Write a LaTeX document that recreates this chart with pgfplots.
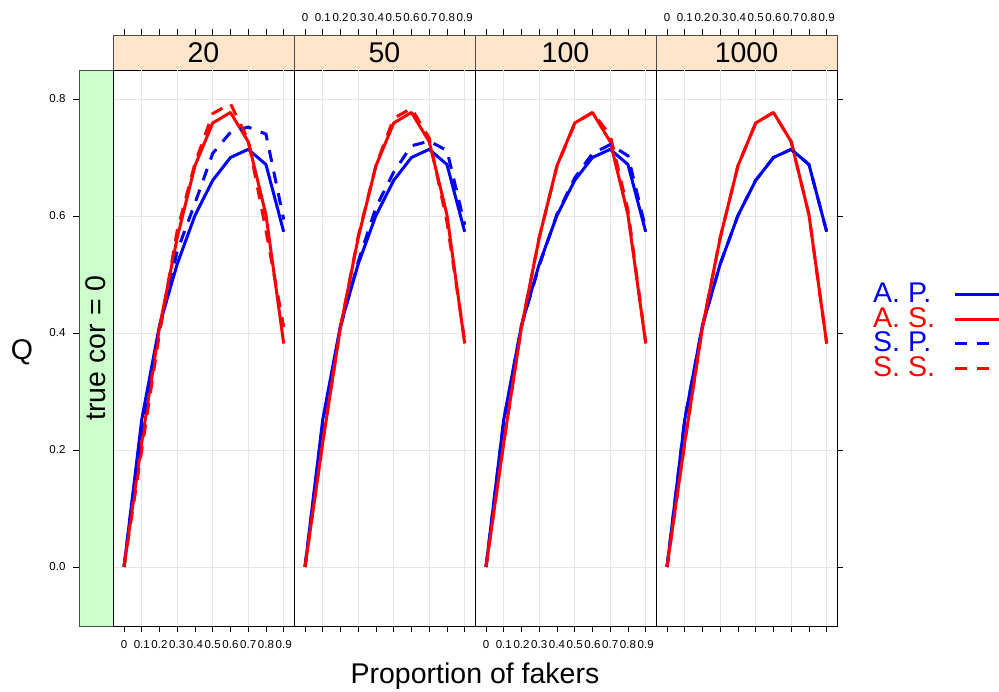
\documentclass[border=0pt]{standalone}
\usepackage{fontspec}
\setmainfont{Liberation Sans}
\usepackage{pgfplots}
\usepackage{pgfplotstable}
\pgfplotsset{compat=1.18}
\definecolor{stripPeach}{HTML}{FFE5CC}
\definecolor{stripGreen}{HTML}{CCFFCC}
\definecolor{gridGray}{HTML}{E6E6E6}
\definecolor{lineBlue}{HTML}{0000FF}
\definecolor{lineRed}{HTML}{FF0000}
\pgfplotstableread{
x   AP    AS    SPa   SSa   SPb   SSb   SPc   SSc
0.0 0.000 0.000 0.000 0.000 0.000 0.000 0.000 0.000
0.1 0.252 0.213 0.240 0.200 0.245 0.215 0.250 0.213
0.2 0.413 0.410 0.405 0.400 0.410 0.410 0.413 0.410
0.3 0.518 0.563 0.540 0.575 0.522 0.565 0.515 0.563
0.4 0.601 0.686 0.622 0.690 0.615 0.687 0.603 0.685
0.5 0.661 0.759 0.707 0.775 0.675 0.767 0.665 0.758
0.6 0.700 0.777 0.743 0.792 0.720 0.784 0.707 0.777
0.7 0.714 0.727 0.752 0.730 0.728 0.733 0.722 0.738
0.8 0.688 0.602 0.740 0.575 0.712 0.590 0.703 0.610
0.9 0.573 0.382 0.594 0.410 0.585 0.386 0.578 0.384
}\data
\newcommand{\bigfont}{\fontsize{28.5}{30}\selectfont}
\newcommand{\tickfont}{\fontsize{11.5}{12}\selectfont}
\pgfplotsset{
  common/.style={scale only axis, anchor=south west,
    xmin=-0.062, xmax=0.958,
    tick align=outside, major tick length=6pt,
    every tick/.style={black, line width=0.8pt},
    ticklabel style={font=\tickfont},
    /pgf/number format/assume math mode=true},
  panel/.style={common, width=181pt, height=556pt,
    ymin=-0.1009, ymax=0.8496,
    xtick={0,0.1,0.2,0.3,0.4,0.5,0.6,0.7,0.8,0.9},
    xtick pos=left, xticklabels={},
    xticklabel style={yshift=-5pt},
    extra x ticks={0.1,0.3,0.5,0.7,0.9},
    extra x tick labels={},
    extra x tick style={grid=major, major tick length=0pt},
    ytick={0,0.2,0.4,0.6,0.8}, yticklabels={},
    ymajorgrids,
    grid style={gridGray, line width=0.8pt},
    axis line style={black, line width=0.8pt}},
  strip/.style={common, width=181pt, height=35pt,
    ymin=0, ymax=1, ytick=\empty,
    xtick={0,0.1,0.2,0.3,0.4,0.5,0.6,0.7,0.8,0.9},
    xtick pos=right, xticklabel pos=right, xticklabels={},
    xticklabel style={yshift=4pt},
    axis background/.style={fill=stripPeach},
    axis line style={black!70, line width=0.8pt}},
  AP/.style={lineBlue, line width=3pt, line join=round},
  AS/.style={lineRed, line width=3pt, line join=round},
  SP/.style={lineBlue, line width=3pt, dash pattern=on 12pt off 10pt},
  SS/.style={lineRed, line width=3pt, dash pattern=on 12pt off 10pt},
}
\begin{document}
\begin{tikzpicture}
\useasboundingbox (0pt,0pt) rectangle (999pt,691pt);
% left strip
\begin{axis}[scale only axis, anchor=south west, at={(79pt,65pt)},
  width=34pt, height=556pt, xmin=0, xmax=1,
  ymin=-0.1009, ymax=0.8496, xtick=\empty,
  ytick={0,0.2,0.4,0.6,0.8}, yticklabels={0.0,0.2,0.4,0.6,0.8},
  ytick pos=left, tick align=outside, major tick length=6pt,
  every tick/.style={black, line width=0.8pt},
  yticklabel style={font=\tickfont, xshift=-4pt},
  axis background/.style={fill=stripGreen},
  axis line style={black!70, line width=0.8pt},
  ylabel={Q}, ylabel style={font=\bigfont, rotate=-90, at={(axis description cs:-1.676,0.492)}, anchor=center}]
\node[font=\bigfont, rotate=90] at (rel axis cs:0.5,0.5) {true cor = 0};
\end{axis}
% strips
\begin{axis}[strip, at={(113pt,621pt)}]
\node[font=\bigfont] at (rel axis cs:0.5,0.5) {20};
\end{axis}
\begin{axis}[strip, at={(294pt,621pt)}, xticklabels={0,0.1,0.2,0.3,0.4,0.5,0.6,0.7,0.8,0.9}]
\node[font=\bigfont] at (rel axis cs:0.5,0.5) {50};
\end{axis}
\begin{axis}[strip, at={(475pt,621pt)}]
\node[font=\bigfont] at (rel axis cs:0.5,0.5) {100};
\end{axis}
\begin{axis}[strip, at={(656pt,621pt)}, xticklabels={0,0.1,0.2,0.3,0.4,0.5,0.6,0.7,0.8,0.9}]
\node[font=\bigfont] at (rel axis cs:0.5,0.5) {1000};
\end{axis}
% panel 20
\begin{axis}[panel, at={(113pt,65pt)}, ytick style={draw=none},
  xticklabels={0,0.1,0.2,0.3,0.4,0.5,0.6,0.7,0.8,0.9}]
\addplot[AP] table[x=x, y=AP] {\data};
\addplot[AS] table[x=x, y=AS] {\data};
\addplot[SP] table[x=x, y=SPa] {\data};
\addplot[SS] table[x=x, y=SSa] {\data};
\end{axis}
% panel 50
\begin{axis}[panel, at={(294pt,65pt)}, ytick style={draw=none},
  xlabel={Proportion of fakers},
  xlabel style={font=\bigfont, at={(axis description cs:1.0,-0.0895)}, anchor=center}]
\addplot[AP] table[x=x, y=AP] {\data};
\addplot[AS] table[x=x, y=AS] {\data};
\addplot[SP] table[x=x, y=SPb] {\data};
\addplot[SS] table[x=x, y=SSb] {\data};
\end{axis}
% panel 100
\begin{axis}[panel, at={(475pt,65pt)}, ytick style={draw=none},
  xticklabels={0,0.1,0.2,0.3,0.4,0.5,0.6,0.7,0.8,0.9}]
\addplot[AP] table[x=x, y=AP] {\data};
\addplot[AS] table[x=x, y=AS] {\data};
\addplot[SP] table[x=x, y=SPc] {\data};
\addplot[SS] table[x=x, y=SSc] {\data};
\end{axis}
% panel 1000
\begin{axis}[panel, at={(656pt,65pt)}, ytick pos=right,
  legend plot pos=right,
  legend image code/.code={\draw[#1] (0pt,1.5pt) -- (44pt,1.5pt);},
  legend style={draw=none, fill=none, at={(1.199,0.527)}, anchor=west,
    column sep=19pt, row sep=1pt, inner sep=0pt,
    nodes={inner sep=0pt, text height=18.5pt, text depth=5pt, font=\bigfont}},
  legend cell align=left]
\addplot[AP] table[x=x, y=AP] {\data};
\addlegendentry{\textcolor{lineBlue}{A. P.}}
\addplot[AS] table[x=x, y=AS] {\data};
\addlegendentry{\textcolor{lineRed}{A. S.}}
\addplot[SP] table[x=x, y=AP] {\data};
\addlegendentry{\textcolor{lineBlue}{S. P.}}
\addplot[SS] table[x=x, y=AS] {\data};
\addlegendentry{\textcolor{lineRed}{S. S.}}
\end{axis}
\end{tikzpicture}
\end{document}
